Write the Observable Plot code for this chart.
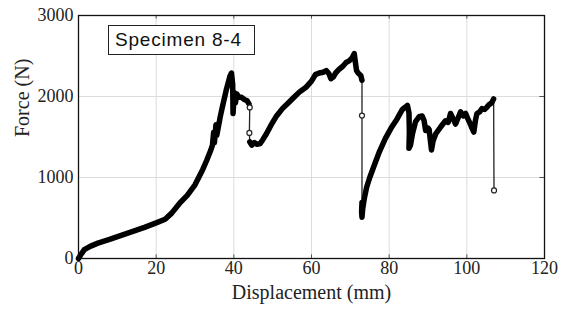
<!DOCTYPE html>
<html>
<head>
<meta charset="utf-8">
<script src="https://cdn.jsdelivr.net/npm/d3@7"></script>
<script src="https://cdn.jsdelivr.net/npm/@observablehq/plot@0.6"></script>
<style>
  body { margin: 0; background: #fff; }
  #wrap { position: relative; width: 564px; height: 315px; }
  #legend { position: absolute; left: 108px; top: 25px; width: 147px; height: 30px;
    border: 1.2px solid #222; box-sizing: border-box; font-family: "Liberation Sans", Arial, sans-serif;
    font-size: 19px; letter-spacing: 0.8px; line-height: 28px; padding-left: 6px; color: #111; background: #fff; }
</style>
</head>
<body>
<div id="wrap"><div id="legend">Specimen 8-4</div></div>
<script>
// ---- data (displacement in mm, force in N) ----
const seg1Disp  = [0,0.5,1.5,3,5,8,11,14,17,20,22.3,24,26,28,30,32,33,34,34.5,34.8,35,35.4,35.6,36,36.5,37,38,39,39.4,39.7,39.8,40.1,40.4,40.8,41.3,42,42.8,43.4,43.9];
const seg1Force = [0,40,110,150,190,235,285,335,385,440,485,560,680,780,910,1100,1210,1330,1400,1560,1430,1650,1520,1620,1750,1860,2070,2250,2290,2150,1790,2050,1920,2030,1990,1990,1960,1950,1910];

const seg2Disp  = [44.1,44.6,45.3,46,46.8,47.5,48.4,49.5,51,52.5,54,55.5,57,58.5,60,61,62,63,63.8,64.5,65,65.6,66.2,67.2,68,68.9,69.7,70.5,71,71.3,71.6,72,72.7,73];
const seg2Force = [1440,1400,1430,1410,1420,1470,1540,1640,1760,1850,1920,1990,2060,2110,2190,2270,2290,2300,2320,2280,2220,2240,2290,2340,2370,2420,2440,2480,2530,2420,2320,2290,2260,2200];

const seg3Disp  = [73,72.9,73,73.2,73.6,74.2,75,76,77.5,79,80.5,82,83.4,84.2,84.7,85.1,85.2,85.1,85.5,86,86.8,87.7,88.5,89,89.4,90,90.3,90.7,90.9,91.3,92,93.2,94.5,95.2,95.8,96.5,97.1,97.8,98.4,99.1,99.7,100.3,100.9,101.4,101.8,102.2,102.6,103.3,103.9,104.6,105.2,105.7,106.1,106.5,106.9];
const seg3Force = [690,580,510,620,740,880,1000,1130,1320,1480,1610,1720,1840,1870,1890,1800,1560,1360,1400,1540,1690,1750,1760,1700,1580,1610,1590,1420,1340,1450,1540,1620,1700,1680,1790,1720,1660,1740,1810,1760,1790,1720,1660,1600,1560,1700,1790,1810,1850,1840,1870,1900,1910,1930,1970];

// sudden drops (sparse samples)
const jump1Disp = [43.9,44.1,44.0,44.1], jump1Force = [1910,1865,1550,1440];
const jump2Disp = [73,73,73],           jump2Force = [2200,1765,690];
const jump3Disp = [106.9,107],          jump3Force = [1970,840];

const markerDisp  = [44.1,44.0,73.0,107.0];
const markerForce = [1865,1550,1765,840];

const xTicks = [0,20,40,60,80,100,120];
const yTicks = [0,1000,2000,3000];
const xLabel = "Displacement (mm)";
const yLabel = "Force (N)";

// ---- build tables ----
const toRows = (xs, ys, seg) => xs.map((x, i) => ({disp: x, force: ys[i], seg}));
const thick = [...toRows(seg1Disp, seg1Force, "a"), ...toRows(seg2Disp, seg2Force, "b"), ...toRows(seg3Disp, seg3Force, "c")];
const thin  = [...toRows(jump1Disp, jump1Force, "j1"), ...toRows(jump2Disp, jump2Force, "j2"), ...toRows(jump3Disp, jump3Force, "j3")];
const markers = toRows(markerDisp, markerForce, "m");

const serif = "Liberation Serif";
const chart = Plot.plot({
  width: 564, height: 315,
  marginLeft: 78, marginRight: 20, marginTop: 15, marginBottom: 57,
  style: {fontFamily: serif, fontSize: "18px", color: "#222", background: "#fff"},
  x: {domain: [0, 120], ticks: xTicks, axis: null},
  y: {domain: [0, 3000], ticks: yTicks, axis: null},
  marks: [
    Plot.gridX(xTicks, {stroke: "#dcdcdc", strokeOpacity: 1, strokeWidth: 1}),
    Plot.gridY(yTicks, {stroke: "#dcdcdc", strokeOpacity: 1, strokeWidth: 1}),
    Plot.ruleX(xTicks.slice(1, -1), {y1: 0, y2: 45, stroke: "#555", strokeWidth: 1}),
    Plot.ruleX(xTicks.slice(1, -1), {y1: 2955, y2: 3000, stroke: "#555", strokeWidth: 1}),
    Plot.ruleY(yTicks.slice(1, -1), {x1: 118.8, x2: 120, stroke: "#555", strokeWidth: 1}),
    Plot.text(xTicks, {x: d => d, frameAnchor: "bottom", dy: 15, text: d => String(d), fontSize: 18, fontFamily: serif, fill: "#222"}),
    Plot.text(yTicks, {y: d => d, frameAnchor: "left", dx: -5, textAnchor: "end", text: d => String(d), fontSize: 18, fontFamily: serif, fill: "#222"}),
    Plot.line(thin, {x: "disp", y: "force", z: "seg", stroke: "#222", strokeWidth: 1.3}),
    Plot.line(thick, {x: "disp", y: "force", z: "seg", stroke: "#000", strokeWidth: 5.5, strokeLinejoin: "round", strokeLinecap: "round"}),
    Plot.dot(markers, {x: "disp", y: "force", r: 2.5, stroke: "#222", fill: "#fff", strokeWidth: 1.2}),
    Plot.frame({stroke: "#111", strokeWidth: 1.3}),
    Plot.text([xLabel], {frameAnchor: "bottom", dy: 40, fontSize: 20, fontFamily: serif, fill: "#222"}),
    Plot.text([yLabel], {frameAnchor: "left", dx: -56, rotate: -90, fontSize: 20, fontFamily: serif, fill: "#222"})
  ]
});
document.getElementById("wrap").prepend(chart);
</script>
</body>
</html>
